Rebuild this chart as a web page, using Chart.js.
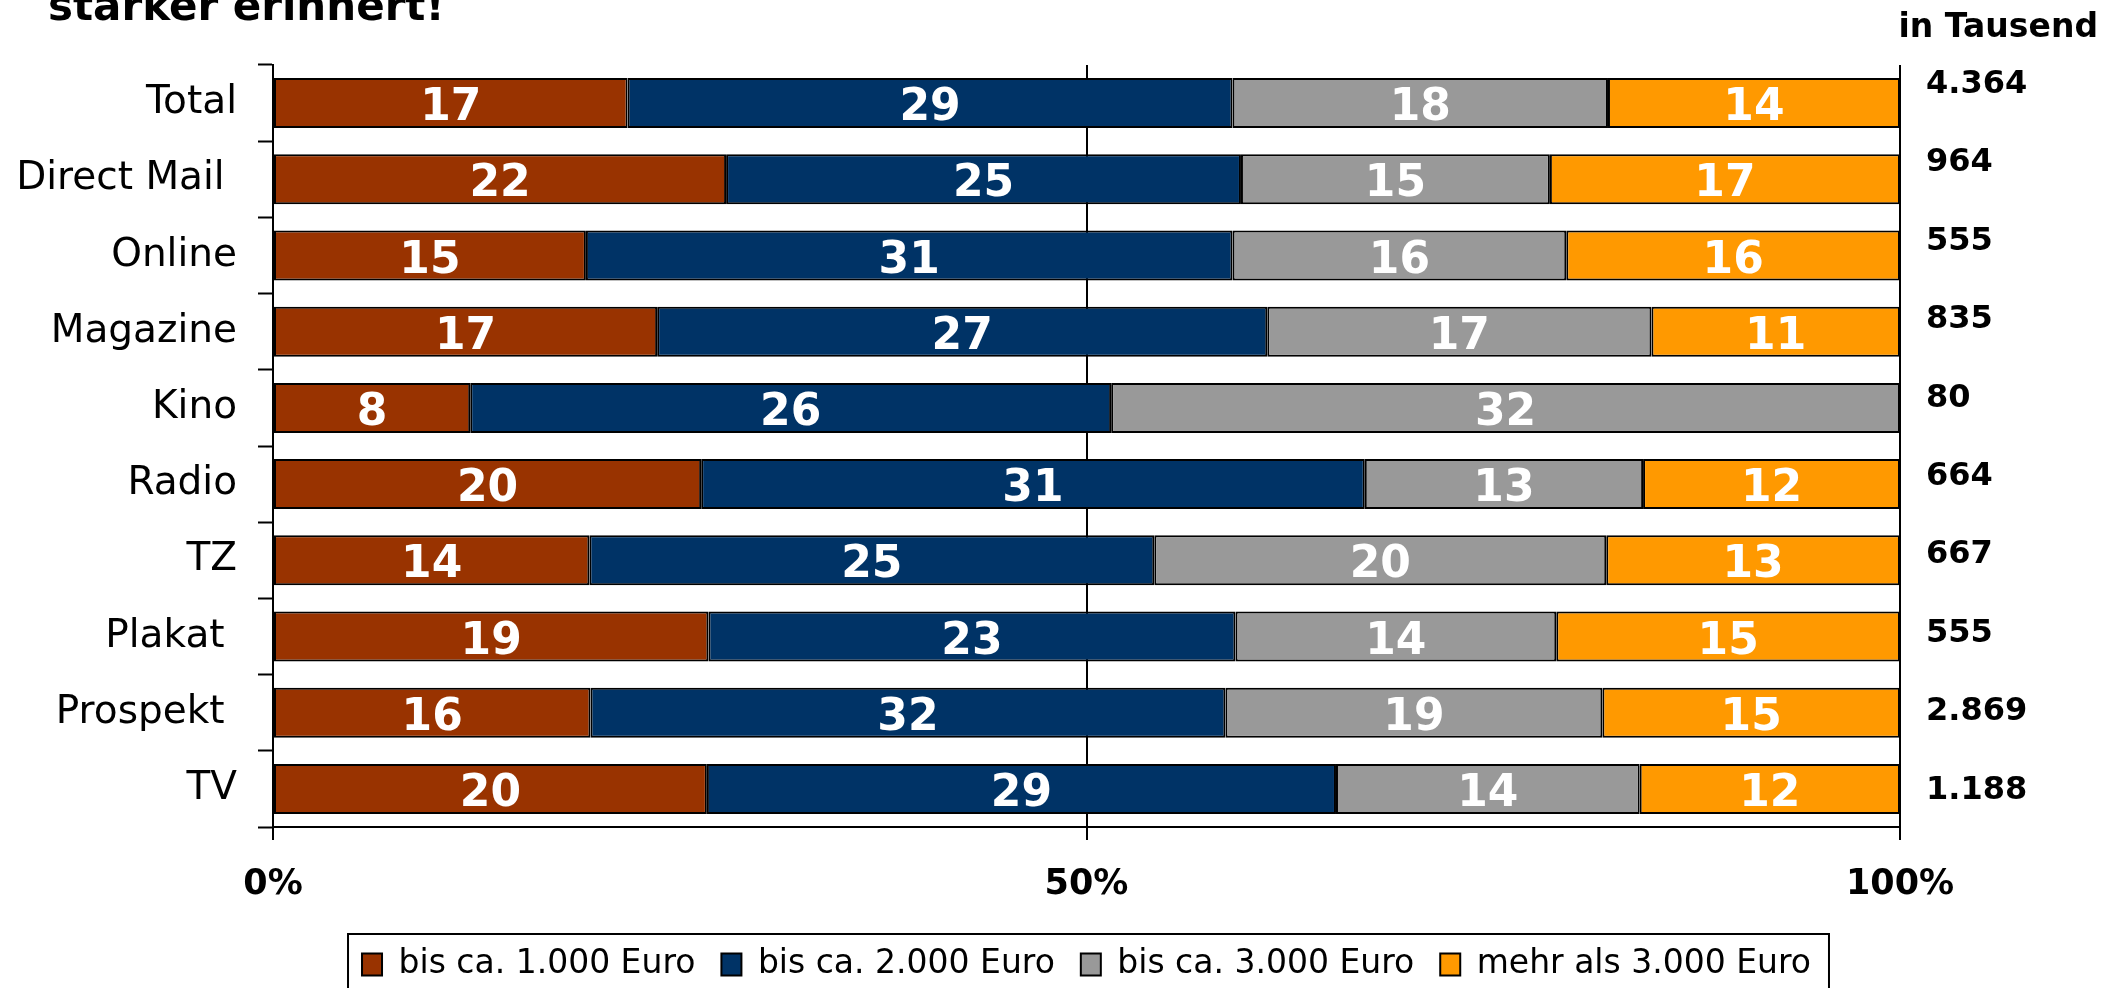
<!DOCTYPE html>
<html>
<head>
<meta charset="utf-8">
<script src="https://cdn.jsdelivr.net/npm/chart.js@4/dist/chart.umd.min.js"></script>
<style>
  html, body { margin: 0; padding: 0; background: #fff; overflow: hidden; }
  canvas { display: block; }
</style>
</head>
<body>
<canvas id="chart" width="2113" height="991"></canvas>
<script>
// Werbeerinnerung nach Haushaltsnetto-Einkommen
const categories = ['Total', 'Direct Mail ', 'Online', 'Magazine', 'Kino', 'Radio', 'TZ', 'Plakat ', 'Prospekt ', 'TV'];
const bis1000  = [17, 22, 15, 17,  8, 20, 14, 19, 16, 20];
const bis2000  = [29, 25, 31, 27, 26, 31, 25, 23, 32, 29];
const bis3000  = [18, 15, 16, 17, 32, 13, 20, 14, 19, 14];
const mehr3000 = [14, 17, 16, 11, null, 12, 13, 15, 15, 12];
const basis = ['4.364', '964', '555', '835', '80', '664', '667', '555', '2.869', '1.188'];
const seriesNames = ['bis ca. 1.000 Euro', 'bis ca. 2.000 Euro', 'bis ca. 3.000 Euro', 'mehr als 3.000 Euro'];
const seriesColors = ['#993300', '#003366', '#999999', '#FF9900'];
const xTicks = [0, 50, 100];

const series = [bis1000, bis2000, bis3000, mehr3000];
const rowTotals = categories.map((c, i) => series.reduce((s, arr) => s + (arr[i] || 0), 0));

// 100%-Darstellung, Beschriftung mit Originalwerten
const datasets = series.map((arr, k) => ({
  label: seriesNames[k],
  raw: arr,
  data: arr.map((v, i) => v == null ? null : v / rowTotals[i] * 100),
  backgroundColor: seriesColors[k],
  borderColor: '#000',
  borderWidth: 2,
  borderSkipped: false,
  barPercentage: 0.656,
  categoryPercentage: 1
}));

const FONT = "'DejaVu Sans', Verdana, sans-serif";

const extras = {
  id: 'extras',
  afterDatasetsDraw(chart) {
    const ctx = chart.ctx;
    ctx.save();
    // Werte in den Balken
    ctx.fillStyle = '#fff';
    ctx.font = 'bold 44px ' + FONT;
    ctx.textAlign = 'center';
    ctx.textBaseline = 'alphabetic';
    chart.data.datasets.forEach((ds, k) => {
      const meta = chart.getDatasetMeta(k);
      meta.data.forEach((el, i) => {
        const v = ds.raw[i];
        if (v == null) return;
        ctx.fillText(String(v), (el.x + el.base) / 2, el.y + 17);
      });
    });
    ctx.restore();
  },
  afterDraw(chart) {
    const ctx = chart.ctx;
    const yScale = chart.scales.y;
    const area = chart.chartArea;
    ctx.save();
    ctx.fillStyle = '#000';

    // Titel (oben angeschnitten)
    ctx.font = 'bold 42px ' + FONT;
    ctx.textAlign = 'left';
    ctx.textBaseline = 'alphabetic';
    ctx.fillText('stärker erinnert!', 48, 20);

    // Spalte "in Tausend"
    ctx.font = 'bold 33px ' + FONT;
    ctx.textAlign = 'right';
    ctx.fillText('in Tausend', 2098, 37);

    ctx.font = 'bold 32px ' + FONT;
    ctx.textAlign = 'left';
    const first = yScale.getPixelForValue(0) - 22;
    const last = yScale.getPixelForValue(basis.length - 1) - 1.5;
    basis.forEach((b, i) => {
      const y = first + (last - first) * i / (basis.length - 1);
      ctx.fillText(b, area.right + 26, y + 11.5);
    });

    // Rahmen um die Legende
    const boxes = chart.legend.legendHitBoxes;
    if (boxes && boxes.length) {
      const l = boxes[0].left - 14;
      const r = boxes[boxes.length - 1].left + boxes[boxes.length - 1].width + 18;
      const t = chart.legend.top + 12;
      ctx.strokeStyle = '#000';
      ctx.lineWidth = 2;
      ctx.strokeRect(l, t, r - l, 80);
    }
    ctx.restore();
  }
};

new Chart(document.getElementById('chart'), {
  type: 'bar',
  data: { labels: categories, datasets: datasets },
  plugins: [extras],
  options: {
    indexAxis: 'y',
    responsive: false,
    animation: false,
    devicePixelRatio: 1,
    layout: { padding: { top: 65, right: 213, bottom: 0, left: 0 } },
    scales: {
      x: {
        stacked: true,
        min: 0,
        max: 100,
        afterFit: s => { s.height = 95; },
        afterBuildTicks: s => { s.ticks = xTicks.map(v => ({ value: v })); },
        border: { display: true, color: '#000', width: 2 },
        grid: { display: true, color: '#000', lineWidth: 2, drawOnChartArea: true, drawTicks: true, tickLength: 13, tickColor: '#000', tickWidth: 2 },
        ticks: {
          color: '#000',
          padding: 24,
          font: { family: FONT, size: 35, weight: 'bold' },
          callback: v => v + '%'
        }
      },
      y: {
        stacked: true,
        afterFit: s => { s.width = 273; },
        border: { display: true, color: '#000', width: 2 },
        grid: { display: true, offset: true, drawOnChartArea: false, drawTicks: true, tickLength: 15, tickColor: '#000', tickWidth: 2 },
        ticks: {
          color: '#000',
          padding: 21,
          font: { family: FONT, size: 39 }
        }
      }
    },
    plugins: {
      tooltip: { enabled: false },
      legend: {
        position: 'bottom',
        fullSize: false,
        labels: {
          color: '#000',
          boxWidth: 20,
          boxHeight: 22,
          padding: 26,
          font: { family: FONT, size: 33 }
        }
      }
    }
  }
});
</script>
</body>
</html>
